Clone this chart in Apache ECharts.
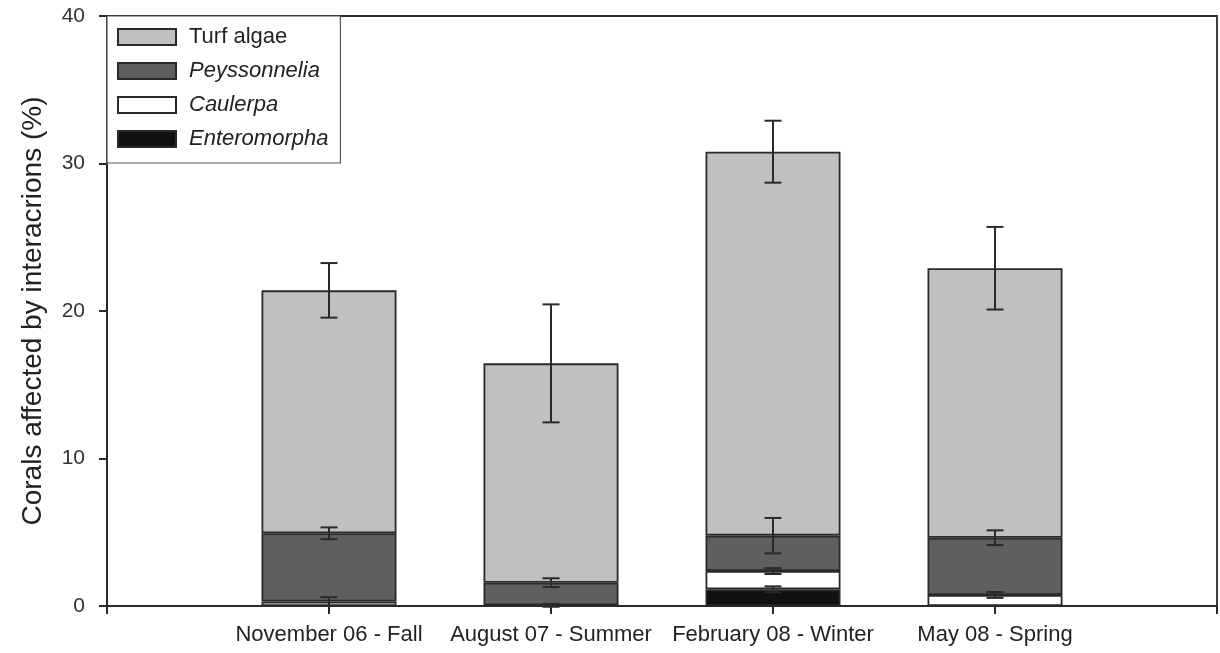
<!DOCTYPE html>
<html>
<head>
<meta charset="utf-8">
<script src="https://cdn.jsdelivr.net/npm/echarts@6/dist/echarts.min.js"></script>
<style>html,body{margin:0;padding:0;background:#fff}#c{width:1220px;height:653px}</style>
</head>
<body>
<div id="c"></div>
<script>
const categories = ['', 'November 06 - Fall', 'August 07 - Summer', 'February 08 - Winter', 'May 08 - Spring', ''];
const yTicks = [0, 10, 20, 30, 40];
const seriesNames = ['Turf algae', 'Peyssonnelia', 'Caulerpa', 'Enteromorpha'];
// stacked from bottom: Enteromorpha, Caulerpa, Peyssonnelia, Turf algae
const enteromorpha = [null, 0, 0, 1.13, 0, null];
const caulerpa = [null, 0.3, 0.05, 1.24, 0.75, null];
const peyssonnelia = [null, 4.63, 1.53, 2.4, 3.88, null];
const turf = [null, 16.47, 14.87, 26.03, 18.27, null];
const enteromorphaErr = [null, 0, 0, 0.2, 0, null];
const caulerpaErr = [null, 0.3, 0.1, 0.2, 0.2, null];
const peyssonneliaErr = [null, 0.4, 0.3, 1.2, 0.5, null];
const turfErr = [null, 1.85, 4.0, 2.1, 2.8, null];

const FONT = "'Liberation Sans', Arial, Helvetica, sans-serif";
const layers = [
  {name: 'Enteromorpha', data: enteromorpha, err: enteromorphaErr, color: '#111111'},
  {name: 'Caulerpa', data: caulerpa, err: caulerpaErr, color: '#ffffff'},
  {name: 'Peyssonnelia', data: peyssonnelia, err: peyssonneliaErr, color: '#5f5f5f'},
  {name: 'Turf algae', data: turf, err: turfErr, color: '#c0c0c0'}
];

const errData = [];
const cum = categories.map(() => 0);
layers.forEach(l => {
  l.data.forEach((v, i) => {
    if (v == null) return;
    cum[i] += v;
    if (l.err[i] > 0) errData.push([i, cum[i], l.err[i]]);
  });
});

const barSeries = layers.map(l => ({
  name: l.name,
  type: 'bar',
  stack: 'total',
  barWidth: 135,
  data: l.data,
  itemStyle: {color: l.color, borderColor: '#2a2a2a', borderWidth: 1.8},
  emphasis: {disabled: true},
  animation: false
}));

const errSeries = {
  type: 'custom',
  name: 'err',
  z: 10,
  animation: false,
  data: errData,
  renderItem: function (params, api) {
    const x = api.value(0), y = api.value(1), e = api.value(2);
    const top = api.coord([x, y + e]);
    const bot = api.coord([x, y - e]);
    const hw = 8.5;
    const st = {stroke: '#2a2a2a', lineWidth: 2};
    return {
      type: 'group',
      children: [
        {type: 'line', shape: {x1: top[0], y1: top[1], x2: bot[0], y2: bot[1]}, style: st},
        {type: 'line', shape: {x1: top[0] - hw, y1: top[1], x2: top[0] + hw, y2: top[1]}, style: st},
        {type: 'line', shape: {x1: bot[0] - hw, y1: bot[1], x2: bot[0] + hw, y2: bot[1]}, style: st}
      ]
    };
  }
};

const chart = echarts.init(document.getElementById('c'), null, {renderer: 'canvas'});
chart.setOption({
  backgroundColor: '#ffffff',
  animation: false,
  textStyle: {fontFamily: FONT},
  grid: {left: 107, right: 1, top: 16, bottom: 47, show: true, borderColor: '#2a2a2a', borderWidth: 1.8, backgroundColor: 'transparent'},
  legend: {
    data: seriesNames,
    orient: 'vertical',
    left: 107,
    top: 16,
    itemWidth: 58,
    itemHeight: 16,
    itemGap: 10,
    padding: [9, 12, 12, 10],
    backgroundColor: '#fff',
    borderColor: '#555',
    borderWidth: 1.2,
    icon: 'rect',
    selectedMode: false,
    formatter: function (n) { return n === 'Turf algae' ? '{n|' + n + '}' : '{i|' + n + '}'; },
    textStyle: {
      fontFamily: FONT, fontSize: 22, color: '#222', lineHeight: 24,
      rich: {
        n: {fontFamily: FONT, fontSize: 22, color: '#222', padding: [0, 0, 0, 8]},
        i: {fontFamily: FONT, fontSize: 22, color: '#222', fontStyle: 'italic', padding: [0, 0, 0, 8]}
      }
    }
  },
  xAxis: {
    type: 'category',
    data: categories,
    boundaryGap: false,
    axisLine: {lineStyle: {color: '#2a2a2a', width: 2}},
    axisTick: {show: true, length: 8, lineStyle: {color: '#2a2a2a', width: 2}},
    axisLabel: {fontFamily: FONT, fontSize: 22, color: '#222', margin: 18, interval: 0},
    splitLine: {show: false}
  },
  yAxis: {
    type: 'value',
    min: yTicks[0],
    max: yTicks[yTicks.length - 1],
    interval: 10,
    name: 'Corals affected by interacrions (%)',
    nameLocation: 'middle',
    nameGap: 60,
    nameTextStyle: {fontFamily: FONT, fontSize: 28, color: '#222'},
    axisLine: {show: true, lineStyle: {color: '#2a2a2a', width: 2}},
    axisTick: {show: true, length: 8, lineStyle: {color: '#2a2a2a', width: 2}},
    axisLabel: {fontFamily: FONT, fontSize: 21, color: '#333', margin: 22},
    splitLine: {show: false}
  },
  series: barSeries.concat([errSeries])
});
</script>
</body>
</html>
